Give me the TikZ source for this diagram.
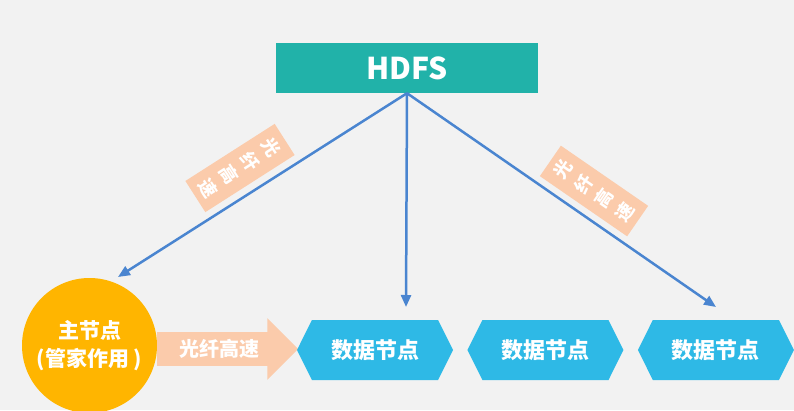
\documentclass[tikz,border=0pt]{standalone}
\usepackage{fontspec}
\setmainfont{Noto Sans CJK SC}
\usetikzlibrary{positioning,arrows.meta,shapes.symbols,shapes.arrows}
\definecolor{bgGray}{HTML}{F2F2F2}
\definecolor{hdfsTeal}{HTML}{21B2A9}
\definecolor{nodeBlue}{HTML}{2EB9E6}
\definecolor{masterGold}{HTML}{FFB500}
\definecolor{fiberPeach}{HTML}{FBCBAB}
\definecolor{linkBlue}{HTML}{4A85D0}
\tikzset{
  hdfsbox/.style={
    fill=hdfsTeal, text=white, inner sep=0pt,
    minimum width=262pt, minimum height=50pt,
    font=\fontsize{30pt}{34pt}\selectfont\bfseries,
  },
  datanode/.style={
    shape=signal, signal to=east and west, signal pointer angle=127,
    fill=nodeBlue, text=white, inner sep=0pt,
    minimum width=156pt, minimum height=60pt,
    font=\fontsize{22pt}{26pt}\selectfont\bfseries,
  },
  mastercircle/.style={
    circle, fill=masterGold, text=white, align=center, inner sep=0pt,
    minimum size=135pt,
    font=\fontsize{21pt}{28pt}\selectfont\bfseries,
  },
  fiber/.style={
    single arrow, fill=fiberPeach, text=white,
    single arrow head extend=14pt, minimum height=141pt, inner ysep=7pt,
    font=\fontsize{20pt}{24pt}\selectfont\bfseries,
  },
  fibertag/.style={
    fill=fiberPeach, text=white, align=center, inner sep=0pt,
    minimum width=37pt, minimum height=106pt,
    font=\fontsize{18pt}{25pt}\selectfont\bfseries,
  },
  link/.style={-{Triangle[length=12pt,width=10pt]}, line width=2.5pt, draw=linkBlue},
}

\begin{document}
\begin{tikzpicture}[x=1pt,y=-1pt]
\useasboundingbox (0,0) rectangle (794,410);
\fill[bgGray] (0,0) rectangle (794,410);

% ---- top ----------------------------------------------------------------
\node[hdfsbox] (hdfs) at (407,68) {HDFS};

% ---- bottom row -----------------------------------------------------------
\node[mastercircle] (master) at (89.5,345.5) {主节点\\(管家作用 )};
\node[fiber, anchor=tail] (fiber) at (157,349) {光纤高速};
\node[datanode] (data1) at (375,350) {数据节点};
\node[datanode, right=14pt of data1] (data2) {数据节点};
\node[datanode, right=14pt of data2] (data3) {数据节点};

% ---- links from HDFS ------------------------------------------------------
\coordinate (toMaster) at (118,277);
\coordinate (toData1)  at (406,307);
\coordinate (toData3)  at (716,307);
\draw[link] (hdfs.south) -- (toMaster);
\draw[link] (hdfs.south) -- (toData1);
\draw[link] (hdfs.south) -- (toData3);

% ---- fiber tags -----------------------------------------------------------
\node[fibertag, rotate=-57.4] (tagLeft)  at (240,168) {光\\纤\\高\\速};
\node[fibertag, rotate=55.4]  (tagRight) at (594,191) {光\\纤\\高\\速};

\end{tikzpicture}
\end{document}
